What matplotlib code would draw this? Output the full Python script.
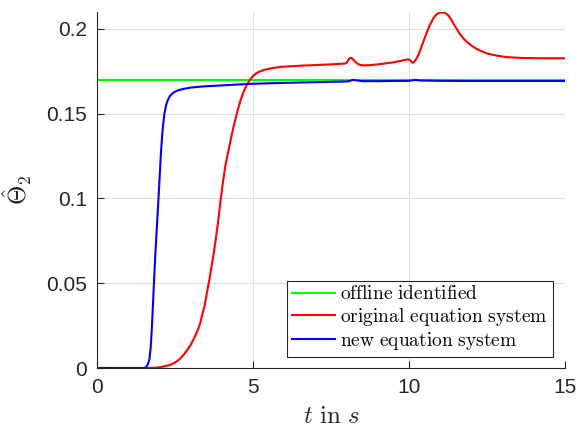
import numpy as np
import matplotlib
matplotlib.use("Agg")
import matplotlib.pyplot as plt

plt.rcParams['mathtext.fontset'] = 'cm'
plt.rcParams['font.family'] = ['Liberation Sans', 'DejaVu Sans']

# offline identified value
t_off = [0, 15]
y_off = [0.17, 0.17]

# original equation system
t_orig = [0, 1.6, 1.9, 2.1, 2.34, 2.5, 2.65, 2.82, 3.0, 3.19, 3.3, 3.45, 3.6, 3.7, 3.8,
          3.88, 3.96, 4.04, 4.12, 4.24, 4.36, 4.48, 4.6, 4.7, 4.8, 4.9, 5.0, 5.1, 5.2,
          5.38, 5.6, 5.87, 6.5, 7.0, 7.5, 7.95, 8.0, 8.05, 8.1, 8.15, 8.2, 8.28, 8.36,
          8.45, 8.54, 8.7, 9.0, 9.5, 9.98, 10.04, 10.08, 10.12, 10.17, 10.24, 10.32,
          10.42, 10.5, 10.56, 10.66, 10.78, 10.88, 10.98, 11.08, 11.16, 11.26, 11.34,
          11.42, 11.52, 11.64, 11.75, 11.85, 12.0, 12.2, 12.49, 12.8, 13.13, 13.6,
          14.2, 15]
y_orig = [0, 0, 0.0002, 0.0007, 0.0018, 0.0032, 0.0052, 0.0088, 0.0135, 0.0206, 0.026,
          0.037, 0.052, 0.063, 0.075, 0.086, 0.099, 0.110, 0.120, 0.1306, 0.141, 0.150,
          0.158, 0.163, 0.167, 0.170, 0.1722, 0.1738, 0.1748, 0.1760, 0.1768, 0.1776,
          0.1783, 0.1787, 0.1791, 0.1796, 0.1800, 0.1815, 0.1828, 0.1830, 0.1822,
          0.1806, 0.1794, 0.1787, 0.1785, 0.1786, 0.1791, 0.1803, 0.1821, 0.1815,
          0.1806, 0.1801, 0.1806, 0.1825, 0.1855, 0.1905, 0.1945, 0.1975, 0.2020,
          0.2063, 0.2086, 0.2096, 0.2098, 0.2094, 0.2080, 0.2060, 0.2033, 0.2003,
          0.1968, 0.1943, 0.1925, 0.1902, 0.1879, 0.1856, 0.1843, 0.1834, 0.1829,
          0.1827, 0.1827]

# new equation system
t_new = [0, 1.5, 1.56, 1.6, 1.64, 1.68, 1.72, 1.76, 1.8, 1.85, 1.9, 1.95, 2.0, 2.05,
         2.1, 2.16, 2.22, 2.28, 2.34, 2.42, 2.5, 2.6, 2.76, 3.0, 3.4, 4.0, 4.9, 6.0,
         7.0, 8.0, 8.1, 8.2, 8.35, 8.5, 9.0, 10.0, 10.1, 10.2, 10.35, 11, 12, 13, 15]
y_new = [0, 0, 0.0003, 0.0012, 0.0028, 0.005, 0.012, 0.024, 0.040, 0.060, 0.077,
         0.093, 0.110, 0.127, 0.140, 0.150, 0.1555, 0.1585, 0.1605, 0.1620, 0.1630,
         0.1638, 0.1646, 0.1654, 0.1661, 0.1667, 0.1676, 0.1682, 0.1686, 0.1690,
         0.1693, 0.1700, 0.1696, 0.1692, 0.1692, 0.1694, 0.1697, 0.1700, 0.1696,
         0.1694, 0.1693, 0.1693, 0.1693]

x_ticks = [0, 5, 10, 15]
y_ticks = [0, 0.05, 0.1, 0.15, 0.2]
y_ticklabels = ['0', '0.05', '0.1', '0.15', '0.2']

fig = plt.figure(figsize=(5.84, 4.30), dpi=100)
ax = fig.add_axes([97 / 584, 62 / 430, 468 / 584, 356 / 430])

ax.plot(t_off, y_off, color='#00ff00', lw=1.5, label=r'$\mathrm{offline\ identified}$')
ax.plot(t_orig, y_orig, color='#ff0000', lw=1.5, label=r'$\mathrm{original\ equation\ system}$')
ax.plot(t_new, y_new, color='#0000ff', lw=1.5, label=r'$\mathrm{new\ equation\ system}$')

ax.set_xlim(0, 15)
ax.set_ylim(0, 0.21)
ax.set_xticks(x_ticks)
ax.set_yticks(y_ticks)
ax.set_yticklabels(y_ticklabels)

ax.grid(True, color='#dfdfdf', lw=0.8)
ax.set_axisbelow(True)
for s in ['top', 'right']:
    ax.spines[s].set_visible(False)
for s in ['left', 'bottom']:
    ax.spines[s].set_color('#262626')
    ax.spines[s].set_linewidth(0.8)
ax.tick_params(direction='in', length=5, width=0.8, colors='#262626', labelsize=15, pad=7)

ax.set_xlabel(r'$t\ \mathrm{in}\ s$', fontsize=18, color='#262626', labelpad=5)
ax.set_ylabel(r'$\hat{\Theta}_2$', fontsize=18, color='#262626', labelpad=9)

leg = ax.legend(loc='lower right', bbox_to_anchor=(0.974, 0.031), borderaxespad=0,
                fontsize=14, fancybox=False, edgecolor='#262626', framealpha=1,
                handlelength=2.2, handletextpad=0.3, borderpad=0.25, labelspacing=0.12)
leg.get_frame().set_linewidth(0.8)

fig.savefig('out.png', dpi=100)
